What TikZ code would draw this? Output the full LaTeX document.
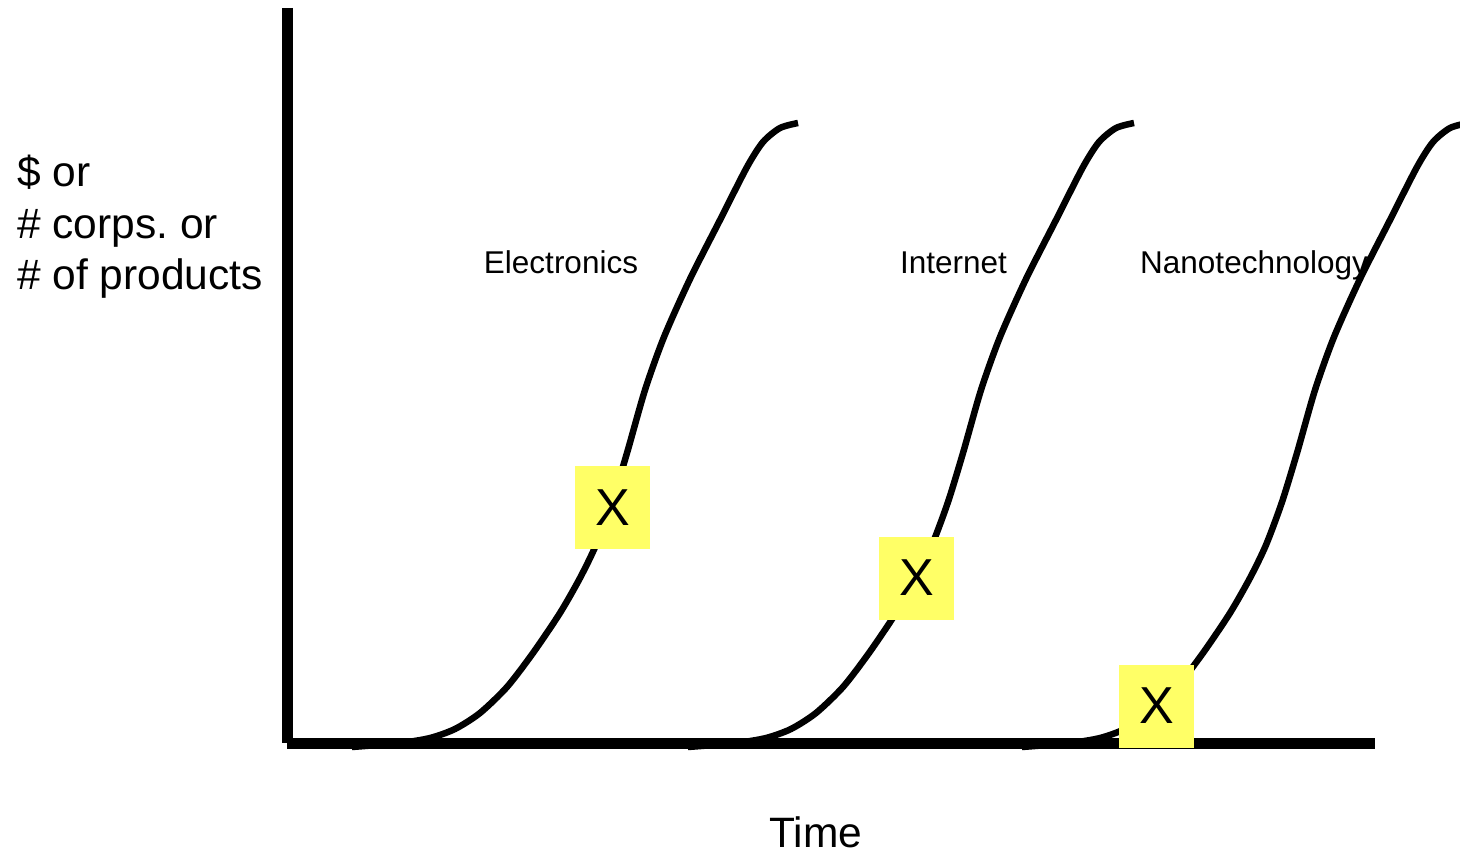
\documentclass[tikz,border=0pt]{standalone}
\usepackage{fontspec}
\setmainfont{Liberation Sans}
\definecolor{xyellow}{RGB}{255,255,102}
\tikzset{
  axisline/.style={line width=11pt, line cap=butt},
  scurve/.style={line width=6.5pt, line cap=butt, line join=round},
  xbox/.style={fill=xyellow, minimum width=75pt, minimum height=83pt, inner sep=0pt, font=\fontsize{52}{60}\selectfont},
  techlabel/.style={inner sep=0pt, font=\fontsize{31.5}{36}\selectfont},
  axislabel/.style={inner sep=0pt, font=\fontsize{42.5}{51}\selectfont},
}
\begin{document}
\begin{tikzpicture}[x=1pt,y=-1pt]
\useasboundingbox (0,0) rectangle (1460,853);
\clip (0,0) rectangle (1460,853);
% S-curves
\foreach \dx in {0,336,670}{
  \draw[scurve, xshift=\dx pt] plot[smooth, tension=0.45] coordinates {
    (352,747) (400,743) (430,738) (455,729) (480,713) (507,687) (533,653)
    (560,613) (580,578) (596,545) (612,502) (627,453) (645,390) (664,337)
    (690,279) (720,220) (747,167) (763,142) (780,128) (798,123)};
}
% axes
\coordinate (top) at (287,8);
\coordinate (origin) at (287,743.5);
\coordinate (right) at (1375,743.5);
\draw[axisline] (top) -- (287,743);
\draw[axisline] (origin) -- (right);
% X markers
\node[xbox] (xe) at (612.5,507.5) {X};
\node[xbox] (xi) at (916.5,578) {X};
\node[xbox] (xn) at (1156.5,706) {X};
% labels
\node[techlabel, anchor=base] (le) at (561,274) {Electronics};
\node[techlabel, anchor=base] (li) at (953.5,274) {Internet};
\node[techlabel, anchor=base west] (ln) at (1140,274) {Nanotechnology};
\node[axislabel, anchor=base] (time) at (816,847) {Time};
\node[axislabel, anchor=base west] (y1) at (17,187) {\$ or};
\node[axislabel, anchor=base west] (y2) at (17,238.5) {\# corps.\ or};
\node[axislabel, anchor=base west] (y3) at (17,290) {\# of products};
\end{tikzpicture}
\end{document}
